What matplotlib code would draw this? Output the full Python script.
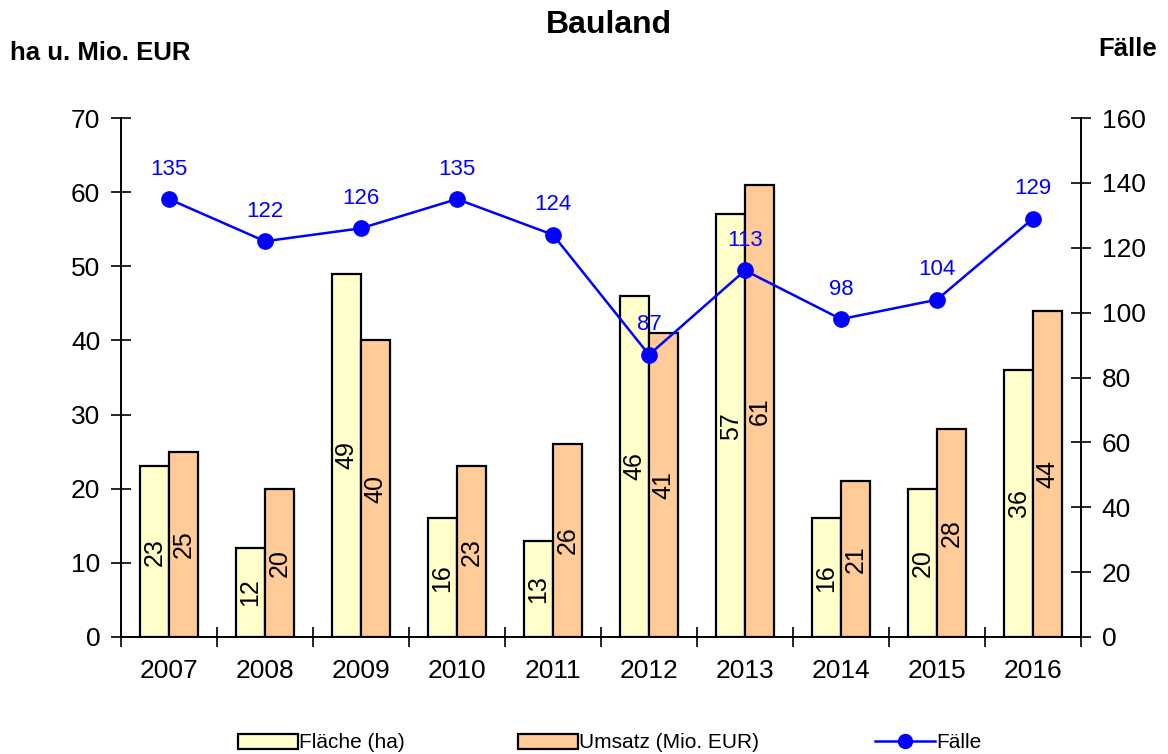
import numpy as np
import matplotlib.pyplot as plt
from matplotlib.patches import Patch
from matplotlib.lines import Line2D

plt.rcParams['font.family'] = ['Liberation Sans', 'DejaVu Sans']

years = ['2007', '2008', '2009', '2010', '2011', '2012', '2013', '2014', '2015', '2016']
flaeche = [23, 12, 49, 16, 13, 46, 57, 16, 20, 36]
umsatz = [25, 20, 40, 23, 26, 41, 61, 21, 28, 44]
faelle = [135, 122, 126, 135, 124, 87, 113, 98, 104, 129]

yellow = '#FFFFCC'
orange = '#FFCC99'
blue = '#0000FF'

fig = plt.figure(figsize=(11.68, 7.54), dpi=100)
ax = fig.add_axes([121 / 1168, 1 - 637 / 754, 960 / 1168, 519 / 754])
ax2 = ax.twinx()

x = np.arange(len(years))
w = 0.3

# bars
ax.bar(x - w / 2, flaeche, w, color=yellow, edgecolor='black', linewidth=1.6, zorder=2)
ax.bar(x + w / 2, umsatz, w, color=orange, edgecolor='black', linewidth=1.6, zorder=2)

for xi, v in zip(x, flaeche):
    ax.text(xi - w / 2, v / 2, str(v), rotation=90, ha='center', va='center', fontsize=18, zorder=3)
for xi, v in zip(x, umsatz):
    ax.text(xi + w / 2, v / 2, str(v), rotation=90, ha='center', va='center', fontsize=18, zorder=3)

# line on secondary axis
ax2.plot(x, faelle, color=blue, lw=1.8, marker='o', ms=11, zorder=4)
for xi, v in zip(x, faelle):
    ax2.text(xi, v + 6, str(v), ha='center', va='bottom', color=blue, fontsize=16)

ax.set_xlim(-0.5, len(years) - 0.5)
ax.set_ylim(0, 70)
ax2.set_ylim(0, 160)
ax.set_yticks(np.arange(0, 71, 10))
ax2.set_yticks(np.arange(0, 161, 20))

ax.set_xticks(x)
ax.set_xticklabels(years)
ax.set_xticks(np.arange(-0.5, len(years), 1), minor=True)
ax.tick_params(axis='x', which='major', length=0, labelsize=19, pad=16)
ax.tick_params(axis='x', which='minor', direction='inout', length=14, width=1.2)
ax.tick_params(axis='y', direction='inout', length=14, width=1.2, labelsize=19, pad=8)
ax2.tick_params(axis='y', direction='inout', length=14, width=1.2, labelsize=19, pad=8)

for a in (ax, ax2):
    a.spines['top'].set_visible(False)
    for s in ('left', 'right', 'bottom'):
        a.spines[s].set_linewidth(1.2)

fig.text(609 / 1168, 1 - 25 / 754, 'Bauland', ha='center', va='center', fontsize=23, fontweight='bold')
fig.text(10 / 1168, 1 - 53 / 754, 'ha u. Mio. EUR', ha='left', va='center', fontsize=18.5, fontweight='bold')
fig.text(1098 / 1168, 1 - 49 / 754, 'Fälle', ha='left', va='center', fontsize=18.5, fontweight='bold')

# legend entries placed individually
entries = [
    (Patch(facecolor=yellow, edgecolor='black', linewidth=1.6), 'Fläche (ha)', 238),
    (Patch(facecolor=orange, edgecolor='black', linewidth=1.6), 'Umsatz (Mio. EUR)', 518),
    (Line2D([0], [0], color=blue, lw=1.8, marker='o', ms=10), 'Fälle', 875),
]
for h, lbl, xpos in entries:
    fig.legend([h], [lbl], loc='center left', bbox_to_anchor=(xpos / 1168, 1 - 743 / 754),
               frameon=False, fontsize=15, handlelength=2.9, handletextpad=0.05,
               handleheight=0.7, borderpad=0, borderaxespad=0)

plt.savefig('out.png', dpi=100)
plt.close()
